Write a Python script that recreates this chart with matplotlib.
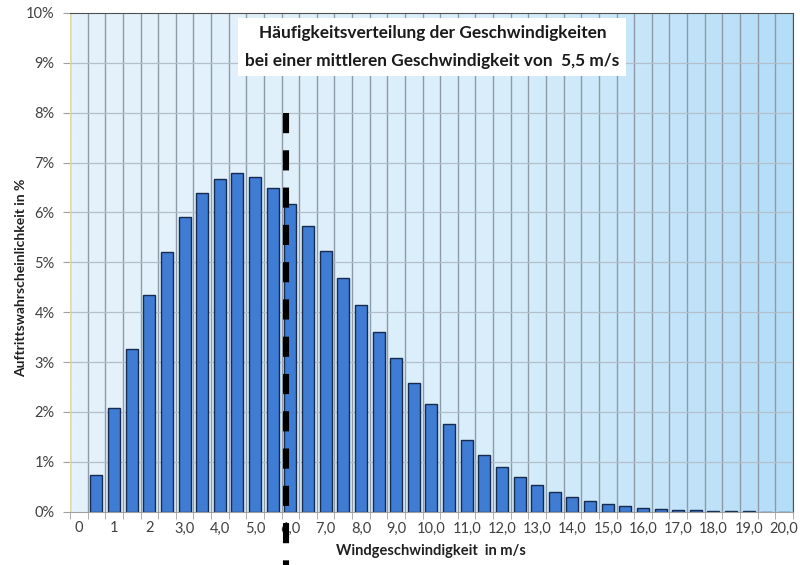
import numpy as np
import matplotlib
matplotlib.use('Agg')
import matplotlib.pyplot as plt
from matplotlib.colors import LinearSegmentedColormap

plt.rcParams['font.family'] = ['Lato', 'DejaVu Sans']

# Windgeschwindigkeit in 0,5 m/s Schritten (Klassen 0 ... 20,0)
speed = np.arange(41) * 0.5
# Auftrittswahrscheinlichkeit je Klasse in %
prob = [0.0, 0.735, 2.07, 3.27, 4.34, 5.20, 5.90, 6.39, 6.68, 6.79,
        6.71, 6.50, 6.17, 5.73, 5.23, 4.69, 4.14, 3.60, 3.08, 2.59,
        2.15, 1.76, 1.43, 1.14, 0.90, 0.69, 0.53, 0.39, 0.30, 0.22,
        0.16, 0.11, 0.07, 0.05, 0.035, 0.025, 0.015, 0.01, 0.006, 0.004,
        0.003]
tick_labels = ['0', '1', '2', '3,0', '4,0', '5,0', '6,0', '7,0', '8,0', '9,0',
               '10,0', '11,0', '12,0', '13,0', '14,0', '15,0', '16,0', '17,0',
               '18,0', '19,0', '20,0']
mean_speed = '5,5'
mean_line_pos = 11.73  # Lage der Markierung auf der Kategorieachse

fig = plt.figure(figsize=(8, 5.65), dpi=100)
ax = fig.add_axes([0.0875, 0.0943, 0.9035, 0.8827])

x = np.arange(len(prob))
ax.set_xlim(-0.5, len(prob) - 0.5)
ax.set_ylim(0, 10)

# Hintergrundverlauf hellblau -> blau
cmap = LinearSegmentedColormap.from_list('bg', ['#e5f2fc', '#d8eefb', '#b4ddf8'])
grad = np.linspace(0, 1, 256).reshape(1, -1) ** 1.3
ax.imshow(grad, cmap=cmap, aspect='auto', extent=(-0.5, len(prob) - 0.5, 0, 10),
          zorder=0, interpolation='bicubic')

# Gitter
for b in np.arange(-0.5, len(prob), 1.0):
    ax.axvline(b, color='#8e9ba6', lw=1.0, zorder=1)
for y in range(1, 10):
    ax.axhline(y, color='#b3c0cb', lw=0.9, zorder=1)

bars = ax.bar(x, prob, width=0.68, color='#3f7cd4', edgecolor='#172a4f',
              linewidth=1.0, zorder=3)
for b, p in zip(bars, prob):
    if p == 0:
        b.set_linewidth(0)

# Markierung der mittleren Geschwindigkeit
ax.plot([mean_line_pos, mean_line_pos], [8.0, -1.1], color='black', lw=4.4,
        dashes=(3.3, 2.8), clip_on=False, zorder=10)

ax.set_xticks(x[::2])
ax.set_xticklabels(tick_labels, fontsize=10.5, color='#404040')
ax.set_xticks(np.arange(-0.5, len(prob), 1.0), minor=True)
ax.tick_params(axis='x', which='major', length=0, pad=7)
ax.tick_params(axis='x', which='minor', length=5, color='#a0a0a0')
ax.set_yticks(range(0, 11))
ax.set_yticklabels([f'{v}%' for v in range(0, 11)], fontsize=10.5, color='#404040')
ax.tick_params(axis='y', length=5, color='#a0a0a0', pad=6)

ax.spines['top'].set_color('#505050')
ax.spines['right'].set_color('#505050')
ax.spines['left'].set_color('#e2dba8')
ax.spines['bottom'].set_color('#a0a0a0')
for s in ax.spines.values():
    s.set_zorder(4)

ax.set_xlabel('Windgeschwindigkeit  in m/s', fontsize=10.5, fontweight='bold',
              color='#202020', labelpad=6)
ax.set_ylabel('Auftrittswahrscheinlichkeit in %', fontsize=10, fontweight='bold',
              color='#202020')
ax.yaxis.set_label_coords(-0.06, 0.47)

ax.text(0.5015, 0.932,
        'Häufigkeitsverteilung der Geschwindigkeiten\n'
        f'bei einer mittleren Geschwindigkeit von  {mean_speed} m/s',
        transform=ax.transAxes, ha='center', va='center', fontsize=12.4,
        fontweight='bold', color='#1a1a1a', linespacing=1.9, zorder=6,
        bbox=dict(boxstyle='square,pad=0.4', facecolor='white', edgecolor='none'))

fig.savefig('out.png', dpi=100)
